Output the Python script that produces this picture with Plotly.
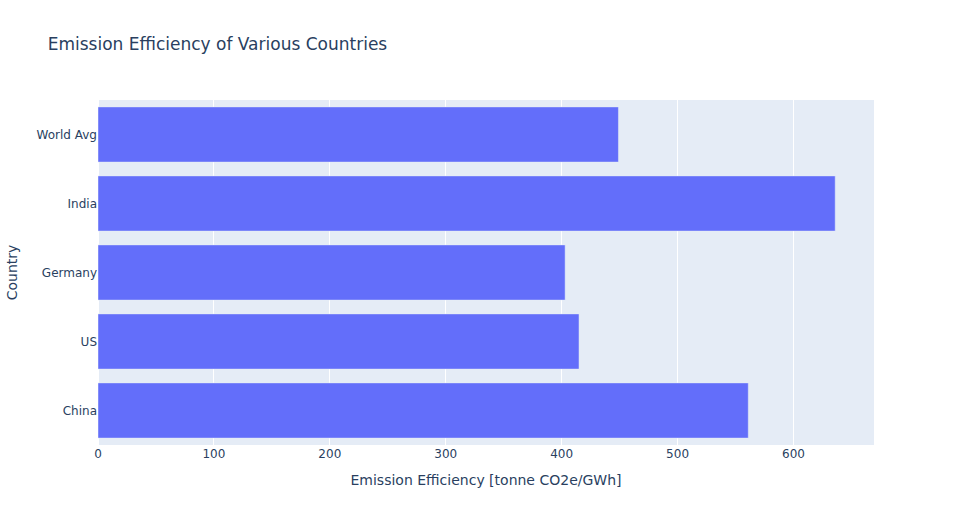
import plotly.graph_objects as go

# Emission efficiency data (tonne CO2e/GWh)
countries = ["China", "US", "Germany", "India", "World Avg"]
efficiency = [561, 415, 403, 636, 449]

fig = go.Figure(go.Bar(
    x=efficiency,
    y=countries,
    orientation="h",
))

fig.update_layout(
    title="Emission Efficiency of Various Countries",
    xaxis_title="Emission Efficiency [tonne CO2e/GWh]",
    yaxis_title="Country",
    font_family="DejaVu Sans, Verdana, sans-serif",
    width=954,
    height=525,
)

# drop the page's default body margin so the figure sits at the top-left corner
fig.write_html(
    "out.html",
    config={"displayModeBar": False},
    post_script="document.body.style.margin='0px';",
)
